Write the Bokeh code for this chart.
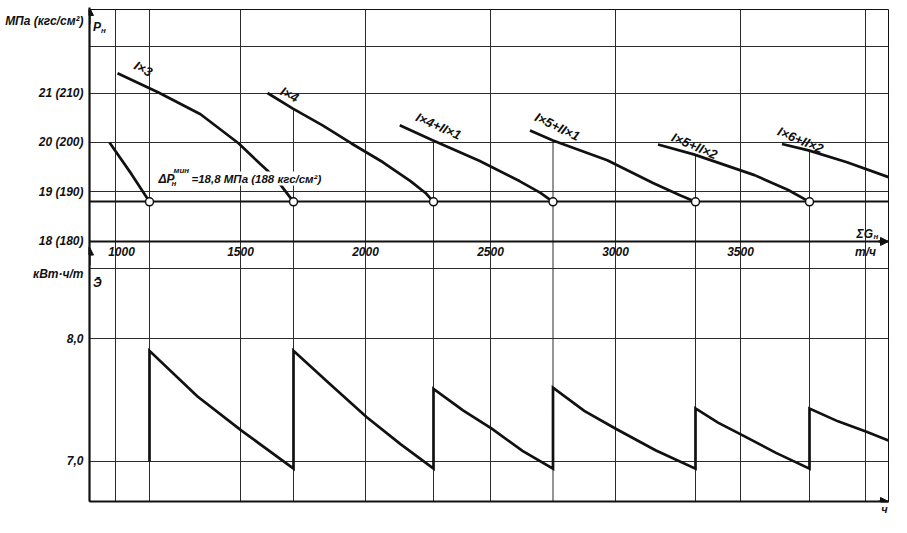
from bokeh.plotting import figure
from bokeh.models import Range1d, FixedTicker, Grid, Arrow, NormalHead
from bokeh.core.properties import value
from bokeh.embed import file_html
from bokeh.resources import INLINE

# ---------------- data ----------------
flow_range = [896, 4092]            # ΣG_н, т/ч
pressure_range = [12.743, 22.688]   # P_н, МПа
energy_range = [6.672, 10.681]      # Э, кВт·ч/т

flow_ticks = [1000, 1500, 2000, 2500, 3000, 3500, 4000]
flow_tick_labels = ["1000", "1500", "2000", "2500", "3000", "3500", "т/ч"]
pressure_ticks = [18, 19, 20, 21]
pressure_tick_labels = ["18 (180)", "19 (190)", "20 (200)", "21 (210)"]
pressure_grid = [19, 20, 21, 21.95]
pressure_min = 18.8
energy_ticks = [7.0, 8.0]
energy_tick_labels = ["7,0", "8,0"]
energy_grid = [7.0, 8.0, 8.567]
pressure_unit = "МПа (кгс/см²)"
energy_unit = "кВт·ч/т"
time_unit = "ч"

# switching points (circles on the 18.8 MPa line)
switch_flow = [1136, 1712, 2272, 2750, 3320, 3776]
# pressure on the next curve at each switching point (top of drop lines 2..6)
switch_next_p = [20.69, 20.05, 20.04, 19.76, 19.84]

# pressure curves P_н(ΣG_н)
c0_g = [976, 1064, 1136]
c0_p = [20.0, 19.36, 18.8]
c1_g = [1008, 1172, 1340, 1492, 1576, 1640, 1712]           # I×3
c1_p = [21.40, 21.01, 20.57, 19.985, 19.58, 19.28, 18.8]
c2_g = [1608, 1708, 1830, 1944, 2070, 2180, 2240, 2272]     # I×4
c2_p = [21.0, 20.69, 20.34, 19.98, 19.60, 19.22, 18.98, 18.8]
c3_g = [2137, 2266, 2455, 2616, 2700, 2750]                 # I×4+II×1
c3_p = [20.35, 20.05, 19.63, 19.22, 18.98, 18.8]
c4_g = [2658, 2750, 2967, 3150, 3260, 3320]                 # I×5+II×1
c4_p = [20.24, 20.04, 19.64, 19.18, 18.93, 18.8]
c5_g = [3170, 3313, 3556, 3691, 3776]                       # I×5+II×2
c5_p = [19.96, 19.76, 19.34, 19.04, 18.8]
c6_g = [3666, 3772, 3926, 4092]                             # I×6+II×2
c6_p = [19.97, 19.84, 19.60, 19.30]
curve_names = ["I×3", "I×4", "I×4+II×1", "I×5+II×1", "I×5+II×2", "I×6+II×2"]

# specific energy sawtooth Э
energy_g = [1136, 1136, 1327, 1504, 1712,
            1712, 1852, 2004, 2140, 2272,
            2272, 2390, 2505, 2628, 2750,
            2750, 2875, 3001, 3160, 3320,
            3320, 3410, 3503, 3640, 3776,
            3776, 3890, 4004, 4092]
energy_v = [7.0, 7.90, 7.53, 7.25, 6.94,
            7.90, 7.64, 7.36, 7.14, 6.94,
            7.59, 7.415, 7.265, 7.085, 6.94,
            7.60, 7.41, 7.265, 7.09, 6.94,
            7.43, 7.315, 7.217, 7.07, 6.94,
            7.43, 7.325, 7.24, 7.17]

# ---------------- styling ----------------
FONT = "Liberation Sans"
INK = "#111111"
GRID = "#2b2b2b"


def e_to_p(e):
    p0, p1 = pressure_range
    e0, e1 = energy_range
    return p0 + (e - e0) * (p1 - p0) / (e1 - e0)


p = figure(width=891, height=517, output_backend="svg", toolbar_location=None,
           x_range=Range1d(*flow_range), y_range=Range1d(*pressure_range),
           min_border_left=89, min_border_right=3, min_border_top=9, min_border_bottom=15,
           background_fill_color="white", border_fill_color="white",
           outline_line_color=INK, outline_line_width=1)
p.extra_y_ranges = {"e": Range1d(*energy_range)}

# left axis: pressure and energy labels (plus unit names) on one axis line
yax = p.yaxis[0]
e_tick_pos = [e_to_p(v) for v in energy_ticks]
unit_pos = [22.446, e_to_p(8.526)]
yax.ticker = FixedTicker(ticks=pressure_ticks + e_tick_pos + unit_pos)
ov = {t: l for t, l in zip(pressure_ticks, pressure_tick_labels)}
ov.update({t: l for t, l in zip(e_tick_pos, energy_tick_labels)})
ov.update({unit_pos[0]: pressure_unit, unit_pos[1]: energy_unit})
yax.major_label_overrides = ov
yax.major_tick_out = 0
yax.major_tick_in = 0
yax.minor_tick_out = 0
yax.minor_tick_in = 0
yax.major_label_standoff = 6
yax.axis_line_width = 2.2
yax.axis_line_color = INK
yax.major_label_text_font = FONT
yax.major_label_text_font_style = "bold italic"
yax.major_label_text_font_size = "12px"
yax.major_label_text_color = INK

# bottom axis (time, ч): only the unit name at its end
xax = p.xaxis[0]
xax.ticker = FixedTicker(ticks=[4076])
xax.major_label_overrides = {4076: time_unit}
xax.major_tick_out = 0
xax.major_tick_in = 0
xax.minor_tick_out = 0
xax.minor_tick_in = 0
xax.major_label_standoff = 1
xax.axis_line_width = 2.2
xax.axis_line_color = INK
xax.major_label_text_font = FONT
xax.major_label_text_font_style = "bold italic"
xax.major_label_text_font_size = "11px"
xax.major_label_text_color = INK

# grids
p.xgrid.ticker = FixedTicker(ticks=flow_ticks)
p.xgrid.grid_line_color = GRID
p.xgrid.grid_line_width = 1
p.ygrid.ticker = FixedTicker(ticks=pressure_grid)
p.ygrid.grid_line_color = GRID
p.ygrid.grid_line_width = 1
p.add_layout(Grid(dimension=1, ticker=FixedTicker(ticks=[pressure_min]),
                  grid_line_color=INK, grid_line_width=1.8))
p.add_layout(Grid(dimension=1, ticker=FixedTicker(ticks=[pressure_ticks[0]]),
                  grid_line_color=INK, grid_line_width=2.2))
p.add_layout(Grid(dimension=1, ticker=FixedTicker(ticks=energy_grid), y_range_name="e",
                  grid_line_color=GRID, grid_line_width=1))

# vertical lines at switching points
tops = [pressure_range[1]] + switch_next_p
p.segment(x0=switch_flow, y0=[pressure_range[0]] * len(switch_flow),
          x1=switch_flow, y1=tops, line_color=GRID, line_width=1, level="underlay")

# pressure curves
for g, pr in [(c0_g, c0_p), (c1_g, c1_p), (c2_g, c2_p), (c3_g, c3_p),
              (c4_g, c4_p), (c5_g, c5_p), (c6_g, c6_p)]:
    p.line(g, pr, line_color=INK, line_width=2.7)

# energy sawtooth
p.line(energy_g, energy_v, y_range_name="e", line_color=INK, line_width=2.7,
       line_join="miter")

TXT = dict(text_font=value(FONT), text_font_style="bold italic", text_color=INK)

# ΔP label (white background hides the curve under it)
p.text(x=[1172], y=[19.27], text=["ΔP"], text_font_size="12px",
       text_align="left", text_baseline="alphabetic", **TXT)
p.text(x=[1224], y=[19.18], text=["н"], text_font_size="8px",
       text_align="left", text_baseline="alphabetic", **TXT)
p.text(x=[1232], y=[19.43], text=["мин"], text_font_size="8px",
       text_align="left", text_baseline="alphabetic", **TXT)
p.text(x=[1300], y=[19.27], text=["=18,8 МПа (188 кгс/см²)"], text_font_size="11.5px",
       text_align="left", text_baseline="alphabetic",
       background_fill_color="white", padding=1, **TXT)

# circles at switching points
p.scatter(switch_flow, [pressure_min] * len(switch_flow), marker="circle", size=8,
          fill_color="white", line_color=INK, line_width=1.5)

# curve labels
lab_g = [1111, 1696, 2292, 2767, 3316, 3740]
lab_p = [21.49, 20.97, 20.33, 20.32, 19.93, 20.05]
lab_a = [-28, -27, -24, -26, -23, -23]
p.text(x=lab_g, y=lab_p, text=curve_names, angle=lab_a, angle_units="deg",
       text_font_size="13px", text_align="center", text_baseline="middle", **TXT)

# x tick labels in the strip between panels
p.text(x=flow_ticks, y=[17.79] * len(flow_ticks), text=flow_tick_labels,
       x_offset=[6, 0, 0, 0, 0, 0, 0],
       text_font_size="12px", text_align="center", text_baseline="middle", **TXT)

# axis names inside the frame
p.text(x=[910], y=[22.33], text=["P"], text_font_size="12px",
       text_align="left", text_baseline="alphabetic", **TXT)
p.text(x=[942], y=[22.26], text=["н"], text_font_size="8px",
       text_align="left", text_baseline="alphabetic", **TXT)
p.text(x=[4030], y=[18.16], text=["ΣG"], text_font_size="12px",
       text_align="right", text_baseline="alphabetic", **TXT)
p.text(x=[4032], y=[18.09], text=["н"], text_font_size="8px",
       text_align="left", text_baseline="alphabetic", **TXT)
p.text(x=[910], y=[e_to_p(8.45)], text=["Э̄"], text_font_size="12px",
       text_align="left", text_baseline="alphabetic", **TXT)

# arrow heads
def arrow(x0, y0, x1, y1):
    p.add_layout(Arrow(end=NormalHead(size=8, fill_color=INK, line_color=INK, line_width=1),
                       x_start=x0, y_start=y0, x_end=x1, y_end=y1,
                       line_color=INK, line_width=2.2))

arrow(flow_range[0], pressure_range[1] - 0.3, flow_range[0], pressure_range[1] + 0.04)
arrow(flow_range[0], e_to_p(8.6), flow_range[0], e_to_p(8.745))
arrow(flow_range[1] - 40, pressure_ticks[0], flow_range[1], pressure_ticks[0])
arrow(flow_range[1] - 40, pressure_range[0], flow_range[1], pressure_range[0])

open("out.html", "w").write(file_html(p, INLINE))
